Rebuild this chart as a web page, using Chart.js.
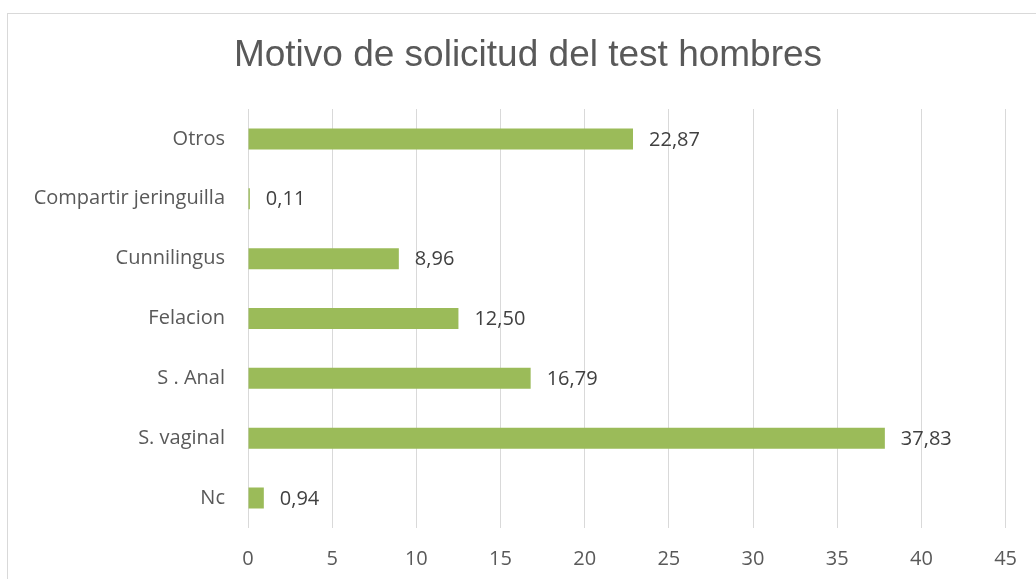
<!DOCTYPE html>
<html>
<head>
<meta charset="utf-8">
<script src="https://cdn.jsdelivr.net/npm/chart.js@4/dist/chart.umd.min.js"></script>
<style>
  html, body { margin: 0; padding: 0; background: #fff; }
  .wrap { position: relative; width: 1036px; height: 579px; }
</style>
</head>
<body>
<div class="wrap"><canvas id="motivos"></canvas></div>
<script>
// data (top to bottom)
const categories = ['Otros', 'Compartir jeringuilla', 'Cunnilingus', 'Felacion', 'S . Anal', 'S. vaginal', 'Nc'];
const percentages = [22.87, 0.11, 8.96, 12.50, 16.79, 37.83, 0.94];
const xTicks = [0, 5, 10, 15, 20, 25, 30, 35, 40, 45];
const chartTitle = 'Motivo de solicitud del test hombres';

const barColor = '#9BBB59';
const gridColor = '#D9D9D9';
const textColor = '#595959';

// light frame round the chart (only left and top edges show) + title
const frame = {
    id: 'frame',
    beforeDraw: (chart) => {
        const c = chart.ctx;
        c.save();
        c.strokeStyle = gridColor;
        c.lineWidth = 1;
        c.strokeRect(7.5, 13.5, 1200, 800);
        c.restore();
    },
    afterDraw: (chart) => {
        const c = chart.ctx;
        c.save();
        c.font = '37px "Liberation Sans", Arial, sans-serif';
        c.fillStyle = textColor;
        c.textAlign = 'center';
        c.textBaseline = 'middle';
        c.fillText(chartTitle, 528, 56);
        c.restore();
    }
};

// value labels at the end of each bar, with comma decimals
const valueLabels = {
    id: 'valueLabels',
    afterDatasetsDraw: (chart) => {
        const c = chart.ctx;
        const meta = chart.getDatasetMeta(0);
        c.save();
        c.font = '20px "Open Sans"';
        c.fillStyle = '#404040';
        c.textAlign = 'left';
        c.textBaseline = 'middle';
        meta.data.forEach((bar, i) => {
            const txt = percentages[i].toFixed(2).replace('.', ',');
            c.fillText(txt, bar.x + 16, bar.y + 1);
        });
        c.restore();
    }
};

new Chart(document.querySelector('#motivos'), {
    type: 'bar',
    data: {
        labels: categories,
        datasets: [{
            label: '',
            data: percentages,
            backgroundColor: barColor,
            borderWidth: 0,
            categoryPercentage: 1,
            barPercentage: 0.351
        }]
    },
    options: {
        indexAxis: 'y',
        responsive: true,
        maintainAspectRatio: false,
        animation: false,
        layout: {
            padding: { left: 0, right: 28, top: 109, bottom: 0 }
        },
        plugins: {
            legend: { display: false },
            tooltip: { enabled: false },
            title: { display: false }
        },
        scales: {
            x: {
                min: 0,
                max: 45,
                afterBuildTicks: (scale) => {
                    scale.ticks = xTicks.map(v => ({ value: v }));
                },
                afterFit: (scale) => { scale.height = 51; },
                grid: { color: gridColor, lineWidth: 1, drawTicks: false },
                border: { display: false },
                ticks: {
                    color: textColor,
                    font: { family: '"Open Sans"', size: 20 },
                    padding: 19
                }
            },
            y: {
                afterFit: (scale) => { scale.width = 248; },
                grid: { display: false, drawTicks: false },
                border: { display: false },
                ticks: {
                    color: textColor,
                    font: { family: '"Open Sans"', size: 20 },
                    padding: 23
                }
            }
        }
    },
    plugins: [frame, valueLabels]
});
</script>
</body>
</html>
